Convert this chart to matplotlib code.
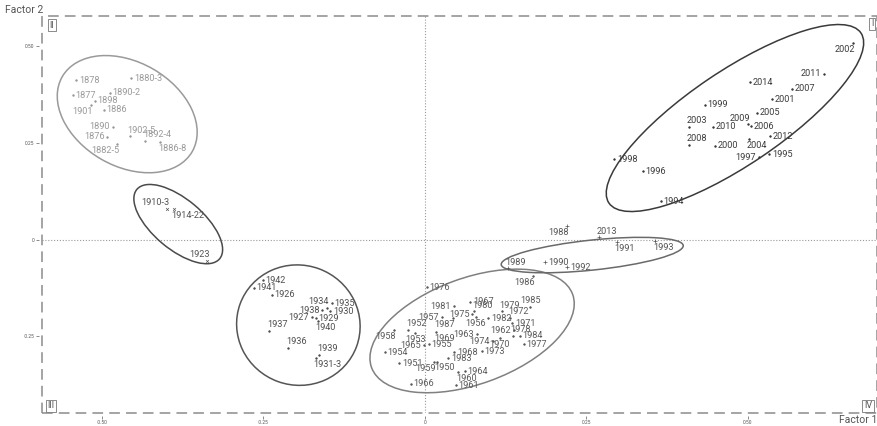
import matplotlib
matplotlib.use("Agg")
import matplotlib.pyplot as plt
from matplotlib.patches import Ellipse, Rectangle
from matplotlib.transforms import ScaledTranslation

plt.rcParams["font.family"] = ["Roboto", "DejaVu Sans"]

# ---- factor scores by period -------------------------------------------
early_years = ["1878", "1880-3", "1877", "1890-2", "1898", "1901", "1886",
               "1890", "1876", "1902-5", "1892-4", "1886-8", "1882-5"]
early_f1 = [-0.540, -0.455, -0.545, -0.488, -0.511, -0.517, -0.497,
            -0.483, -0.492, -0.457, -0.433, -0.410, -0.477]
early_f2 = [0.412, 0.417, 0.373, 0.379, 0.358, 0.348, 0.335,
            0.291, 0.265, 0.267, 0.255, 0.252, 0.247]

war_years = ["1910-3", "1914-22", "1923"]
war_f1 = [-0.399, -0.389, -0.337]
war_f2 = [0.079, 0.079, -0.055]

interwar_years = ["1942", "1941", "1926", "1935", "1934", "1930", "1938",
                  "1927", "1929", "1940", "1937", "1936", "1939", "1931-3"]
interwar_f1 = [-0.251, -0.265, -0.237, -0.144, -0.152, -0.147, -0.159,
               -0.175, -0.169, -0.166, -0.241, -0.212, -0.164, -0.169]
interwar_f2 = [-0.105, -0.125, -0.143, -0.164, -0.177, -0.185, -0.182,
               -0.200, -0.203, -0.211, -0.236, -0.280, -0.298, -0.306]

postwar_years = ["1976", "1981", "1967", "1975", "1980", "1956", "1979",
                 "1985", "1957", "1987", "1982", "1972", "1971", "1952",
                 "1958", "1953", "1969", "1963", "1962", "1978", "1970",
                 "1984", "1977", "1974", "1955", "1965", "1954", "1968",
                 "1973", "1983", "1951", "1959", "1950", "1964", "1960",
                 "1966", "1961", "1986"]
postwar_f1 = [0.003, 0.045, 0.070, 0.073, 0.076, 0.079, 0.119,
              0.163, 0.026, 0.043, 0.098, 0.132, 0.135, -0.026,
              -0.048, -0.015, 0.017, 0.080, 0.138, 0.136, 0.116,
              0.147, 0.153, 0.105, 0.006, -0.002, -0.062, 0.045,
              0.088, 0.036, -0.040, 0.014, 0.018, 0.062, 0.051,
              -0.022, 0.048, 0.167]
postwar_f2 = [-0.123, -0.172, -0.161, -0.193, -0.185, -0.200, -0.185,
              -0.174, -0.200, -0.203, -0.203, -0.203, -0.216, -0.234,
              -0.234, -0.242, -0.239, -0.244, -0.234, -0.249, -0.255,
              -0.249, -0.270, -0.262, -0.270, -0.273, -0.291, -0.291,
              -0.288, -0.306, -0.319, -0.317, -0.315, -0.340, -0.342,
              -0.373, -0.376, -0.094]

transition_years = ["1988", "2013", "1991", "1993", "1989", "1990", "1992"]
transition_f1 = [0.220, 0.269, 0.297, 0.356, 0.128, 0.186, 0.220]
transition_f2 = [0.035, 0.006, -0.006, -0.004, -0.074, -0.058, -0.071]

recent_years = ["2002", "2011", "2014", "2007", "2001", "1999", "2005",
                "2003", "2009", "2006", "2010", "2012", "2004", "2008",
                "2000", "1997", "1995", "1998", "1996", "1994"]
recent_f1 = [0.663, 0.618, 0.503, 0.568, 0.537, 0.433, 0.514,
             0.409, 0.500, 0.505, 0.446, 0.534, 0.502, 0.409,
             0.449, 0.517, 0.533, 0.293, 0.337, 0.365]
recent_f2 = [0.508, 0.428, 0.407, 0.389, 0.363, 0.348, 0.327,
             0.291, 0.298, 0.293, 0.291, 0.267, 0.260, 0.244,
             0.242, 0.213, 0.221, 0.208, 0.177, 0.099]

x_ticks = [-0.50, -0.25, 0.0, 0.25, 0.50]
x_tick_labels = ["-0.50", "-0.25", "0", "0.25", "0.50"]
y_ticks = [0.50, 0.25, 0.0, -0.25]
y_tick_labels = ["0.50", "0.25", "0", "-0.25"]

# ---- label placement relative to each point ----------------------------
placement = {
    "1901": "bl", "1890": "l", "1876": "l", "1902-5": "ar", "1892-4": "ar",
    "1886-8": "br", "1882-5": "bl",
    "1910-3": "al", "1914-22": "br", "1923": "al",
    "1934": "al", "1938": "l", "1927": "l", "1940": "br", "1937": "ar",
    "1936": "ar", "1939": "ar", "1931-3": "br",
    "1981": "l", "1975": "l", "1980": "ar", "1956": "b", "1979": "ar",
    "1985": "a", "1957": "l", "1987": "bl", "1972": "ar", "1952": "ar",
    "1958": "bl", "1953": "b", "1969": "br", "1963": "l", "1962": "l",
    "1978": "ar", "1970": "b", "1974": "l", "1965": "l", "1959": "bl",
    "1950": "br", "1960": "br", "1986": "bl",
    "1988": "bl", "2013": "ar", "1991": "br", "1993": "br", "1989": "ar",
    "2002": "bl", "2011": "l", "2003": "ar", "2009": "al", "2004": "br",
    "2008": "ar", "1997": "l",
}
offsets = {
    "r": (2.0, 0.0, "left", "center"),
    "l": (-2.0, 0.0, "right", "center"),
    "a": (0.0, 1.2, "center", "bottom"),
    "b": (0.0, -1.2, "center", "top"),
    "ar": (-1.5, 1.2, "left", "bottom"),
    "al": (1.5, 1.2, "right", "bottom"),
    "br": (-1.5, -1.2, "left", "top"),
    "bl": (1.5, -1.2, "right", "top"),
}

DPI = 100
fig = plt.figure(figsize=(8.78, 4.26), dpi=DPI)
ax = fig.add_axes([0.0478, 0.0305, 0.9511, 0.9319])
ax.set_xlim(-0.593, 0.700)
ax.set_ylim(-0.448, 0.5775)

# dashed frame and axis crosshair
ax.add_patch(Rectangle((0, 0), 1, 1, transform=ax.transAxes, fill=False,
                       ec="#8c8c8c", lw=1.1, ls=(0, (7, 4)), clip_on=False))
ax.axhline(0, color="#9a9a9a", lw=0.8, ls=(0, (1, 1.6)), zorder=0)
ax.axvline(0, color="#9a9a9a", lw=0.8, ls=(0, (1, 1.6)), zorder=0)

for side in ax.spines:
    ax.spines[side].set_visible(False)
ax.spines["bottom"].set_position(("outward", 2.5))
ax.spines["left"].set_position(("outward", 2))
ax.set_xticks(x_ticks)
ax.set_xticklabels(x_tick_labels)
ax.set_yticks(y_ticks)
ax.set_yticklabels(y_tick_labels)
ax.tick_params(axis="both", direction="out", length=2.5, width=0.6,
               color="#777777", labelsize=3.5, labelcolor="#555555", pad=1.0)
ax.tick_params(axis="x", length=2.2, pad=0.4)


def draw_group(names, xs, ys, color, marker=".", ms=2.2, mew=0.6):
    ax.plot(xs, ys, ls="none", marker=marker, ms=ms, mew=mew,
            color=color, zorder=3)
    for name, x, y in zip(names, xs, ys):
        dx, dy, ha, va = offsets[placement.get(name, "r")]
        ax.annotate(name, (x, y), xytext=(dx, dy), textcoords="offset points",
                    ha=ha, va=va, fontsize=6.6, color=color, zorder=4)


def draw_ellipse(cx, cy, w_px, h_px, angle, color, lw=1.1):
    tr = fig.dpi_scale_trans + ScaledTranslation(cx, cy, ax.transData)
    ax.add_patch(Ellipse((0, 0), w_px / DPI, h_px / DPI, angle=angle,
                         transform=tr, fill=False, ec=color, lw=lw, zorder=2))


draw_group(early_years, early_f1, early_f2, "#9a9a9a")
draw_group(war_years, war_f1, war_f2, "#555555", marker="x", ms=2.0, mew=0.5)
draw_group(interwar_years, interwar_f1, interwar_f2, "#505050")
draw_group(postwar_years, postwar_f1, postwar_f2, "#5a5a5a")
draw_group(transition_years, transition_f1, transition_f2, "#555555",
           marker="+", ms=3.0, mew=0.5)
draw_group(recent_years, recent_f1, recent_f2, "#3c3c3c")

# period envelopes: centre (factor units), size in pixels, tilt in degrees
draw_ellipse(-0.461, 0.324, 150, 104, -30, "#9a9a9a")
draw_ellipse(-0.382, 0.040, 108, 50, -40, "#4a4a4a")
draw_ellipse(-0.196, -0.221, 124, 120, -20, "#555555")
draw_ellipse(0.073, -0.236, 214, 106, 20, "#808080")
draw_ellipse(0.259, -0.040, 183, 30, 6, "#6a6a6a")
draw_ellipse(0.480, 0.314, 304, 94, 34, "#3a3a3a")

# quadrant markers
box = dict(boxstyle="square,pad=0.2", fc="white", ec="#777777", lw=0.6)
for label, px, py in [("II", 52, 25), ("I", 872, 24),
                      ("III", 51, 406), ("IV", 868, 406)]:
    fig.text(px / 878, 1 - py / 426, label, ha="center", va="center",
             fontsize=6.5, color="#555555", bbox=box)

fig.text(5 / 878, 1 - 10 / 426, "Factor 2", ha="left", va="center",
         fontsize=7.5, color="#555555")
fig.text(877 / 878, 1 - 420 / 426, "Factor 1", ha="right", va="center",
         fontsize=7.5, color="#555555")

fig.savefig("out.png", dpi=DPI)
